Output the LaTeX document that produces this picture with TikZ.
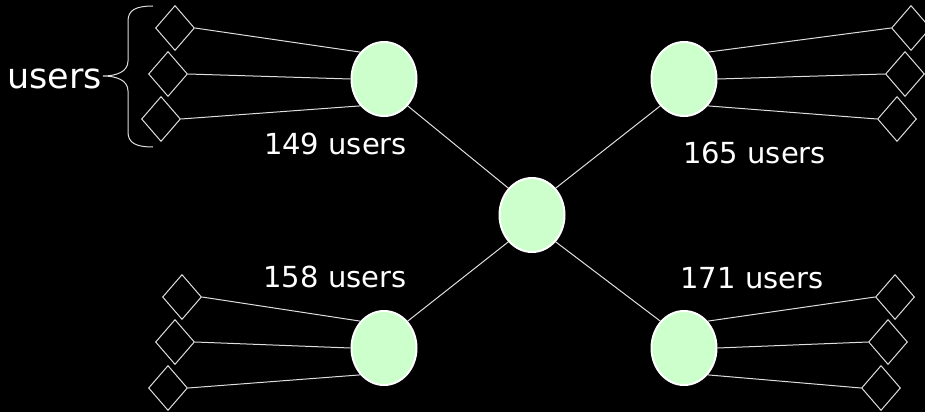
\documentclass[tikz,border=0pt]{standalone}
\usepackage{fontspec}
\setmainfont{DejaVu Sans}
\usetikzlibrary{shapes.geometric}
\definecolor{hubfill}{RGB}{204,255,204}
\definecolor{wire}{RGB}{222,222,222}
\begin{document}
\begin{tikzpicture}[x=1pt,y=-1pt,
  hub/.style={ellipse, draw=white, line width=2pt, fill=hubfill,
    minimum width=65pt, minimum height=74pt, inner sep=0pt},
  user/.style={diamond, draw=wire, line width=1pt,
    minimum width=39pt, minimum height=45pt, inner sep=0pt},
  wireline/.style={draw=wire, line width=1pt},
  count/.style={text=white, font=\fontsize{29}{34}\selectfont,
    inner sep=0pt, anchor=base}]
\fill[black] (0,0) rectangle (925,412);
\useasboundingbox (0,0) rectangle (925,412);

% routers
\node[hub] (tl) at (384,79) {};
\node[hub] (tr) at (684,79) {};
\node[hub] (c)  at (532,215) {};
\node[hub] (bl) at (384,348) {};
\node[hub] (br) at (684,348) {};

% user terminals
\node[user] (tl1) at (175,28) {};
\node[user] (tl2) at (168,74) {};
\node[user] (tl3) at (161,119) {};
\node[user] (tr1) at (911,28) {};
\node[user] (tr2) at (905,74) {};
\node[user] (tr3) at (897,119) {};
\node[user] (bl1) at (182,297) {};
\node[user] (bl2) at (175,342) {};
\node[user] (bl3) at (168,388) {};
\node[user] (br1) at (895,297) {};
\node[user] (br2) at (888,342) {};
\node[user] (br3) at (881,388) {};

% access links
\draw[wireline] (tl1.east) -- (tl.north west);
\draw[wireline] (tl2.east) -- (tl.west);
\draw[wireline] (tl3.east) -- (tl.south west);
\draw[wireline] (tr1.west) -- (tr.north east);
\draw[wireline] (tr2.west) -- (tr.east);
\draw[wireline] (tr3.west) -- (tr.south east);
\draw[wireline] (bl1.east) -- (bl.north west);
\draw[wireline] (bl2.east) -- (bl.west);
\draw[wireline] (bl3.east) -- (bl.south west);
\draw[wireline] (br1.west) -- (br.north east);
\draw[wireline] (br2.west) -- (br.east);
\draw[wireline] (br3.west) -- (br.south east);

% core links
\draw[wireline] (tl.south east) -- (c.north west);
\draw[wireline] (tr.south west) -- (c.north east);
\draw[wireline] (bl.north east) -- (c.south west);
\draw[wireline] (br.north west) -- (c.south east);

% counts
\node[count] (n149) at (335.5,154) {149 users};
\node[count] (n158) at (335,287) {158 users};
\node[count] (n165) at (754.5,163) {165 users};
\node[count] (n171) at (752,288) {171 users};

% brace grouping the terminals
\draw[wire, line width=1pt]
  (153,6) .. controls (136,6) and (128,10) .. (128,21)
  -- (128,61) .. controls (128,72) and (116,76) .. (103,76)
  .. controls (116,76) and (128,80) .. (128,91)
  -- (128,132) .. controls (128,143) and (136,147) .. (153,147);
\node[text=white, font=\fontsize{35}{40}\selectfont, inner sep=0pt,
  anchor=base east] (grp) at (102,88) {users};
\end{tikzpicture}
\end{document}
